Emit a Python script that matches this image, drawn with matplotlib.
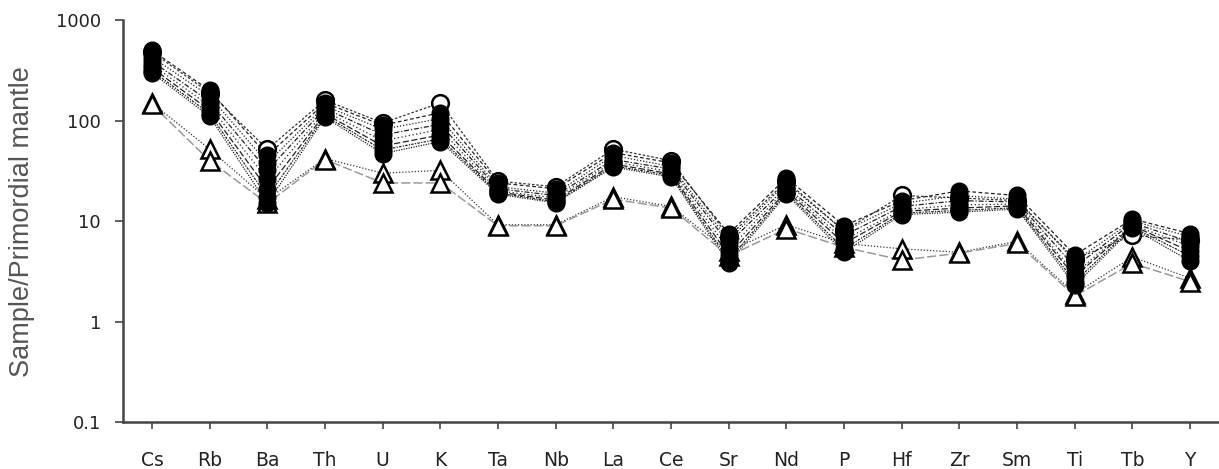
import matplotlib.pyplot as plt
import numpy as np

# Trace elements in spider-diagram order
elements = ["Cs", "Rb", "Ba", "Th", "U", "K", "Ta", "Nb", "La", "Ce",
            "Sr", "Nd", "P", "Hf", "Zr", "Sm", "Ti", "Tb", "Y"]

# Primordial-mantle normalised concentrations per sample
open_circle = [480, 190, 52, 160, 95, 150, 25, 22, 52, 40, 7, 25, 8, 18, 17, 16, 4.2, 7.2, 6.5]

filled = [
    [500, 200, 45, 150, 90, 120, 24, 21, 48, 38, 7.5, 27, 9.0, 16, 20, 18, 4.6, 10.5, 7.5],
    [430, 175, 38, 140, 82, 105, 22, 19, 45, 35, 6.5, 24, 8.0, 15, 18, 16.5, 4.0, 10.0, 7.0],
    [390, 155, 32, 132, 72, 92, 21, 18, 41, 33, 6.0, 22, 7.2, 14, 16, 15.5, 3.5, 9.6, 6.2],
    [360, 140, 26, 124, 63, 82, 20, 17, 39, 31, 5.2, 21, 6.5, 13, 14.5, 14.8, 3.0, 9.2, 5.6],
    [335, 127, 21, 117, 56, 72, 19.5, 16.2, 37, 29.5, 4.6, 20, 6.0, 12.5, 13.5, 14.2, 2.8, 9.0, 5.0],
    [315, 117, 17.5, 112, 51, 66, 19, 15.6, 35.5, 28.5, 4.1, 19.2, 5.3, 12, 12.8, 13.6, 2.5, 8.7, 4.5],
    [300, 110, 15, 108, 47, 62, 18.5, 15.2, 34.5, 27.5, 3.8, 18.5, 4.9, 11.6, 12.3, 13.2, 2.3, 8.5, 4.0],
]

triangles = [
    [150, 52, 16.5, 42, 30, 32, 9.2, 9.2, 17.5, 14, 5.0, 9.2, 6.0, 5.3, 4.9, 6.3, 1.9, 4.4, 2.7],
    [145, 40, 15, 41, 24, 24, 9.0, 9.0, 16.5, 13.5, 4.5, 8.4, 5.5, 4.1, 4.8, 6.0, 1.8, 3.8, 2.5],
]

filled_styles = [(0, (3, 2)), (0, (1, 1.5)), (0, (4, 1.5, 1, 1.5)), (0, (1, 2)),
                 (0, (5, 2)), (0, (2, 1, 1, 1)), (0, (1, 1))]

x = np.arange(len(elements))

fig = plt.figure(figsize=(12.19, 4.69), dpi=100)
ax = fig.add_axes([0.101, 0.100, 0.899, 0.857])

# connecting lines first, markers on top
ax.plot(x, open_circle, color="#333333", lw=0.9, ls=(0, (2, 1.5)), zorder=1)
for vals, ls in zip(filled, filled_styles):
    ax.plot(x, vals, color="#222222", lw=0.9, ls=ls, zorder=1)
ax.plot(x, triangles[0], color="#333333", lw=0.9, ls=(0, (1, 1.5)), zorder=1)
ax.plot(x, triangles[1], color="#999999", lw=1.1, ls=(0, (6, 2)), zorder=1)

for vals in triangles:
    ax.plot(x, vals, ls="none", marker="^", ms=13, mfc="white", mec="black",
            mew=1.8, zorder=3)
ax.plot(x, open_circle, ls="none", marker="o", ms=12, mfc="white", mec="black",
        mew=1.8, zorder=4)
for vals in filled:
    ax.plot(x, vals, ls="none", marker="o", ms=12, mfc="black", mec="black",
            zorder=5)

ax.set_yscale("log")
ax.set_ylim(0.1, 1000)
ax.set_xlim(-0.5, 18.5)
ax.set_yticks([0.1, 1, 10, 100, 1000])
ax.set_yticklabels(["0.1", "1", "10", "100", "1000"])
ax.minorticks_off()
ax.set_xticks(x)
ax.set_xticklabels(elements)

ax.tick_params(axis="y", labelsize=13, length=6, width=1.2, color="#444444", pad=10)
ax.tick_params(axis="x", labelsize=13.5, length=5, width=1.2, color="#444444", pad=16)
for t in ax.get_xticklabels() + ax.get_yticklabels():
    t.set_color("#222222")

for side in ["top", "right"]:
    ax.spines[side].set_visible(False)
for side in ["left", "bottom"]:
    ax.spines[side].set_color("#444444")
    ax.spines[side].set_linewidth(1.8)

ax.set_ylabel("Sample/Primordial mantle", fontsize=19.5, color="#555555",
              family=["Liberation Sans", "DejaVu Sans"], labelpad=15)

fig.savefig("out.png", dpi=100)
